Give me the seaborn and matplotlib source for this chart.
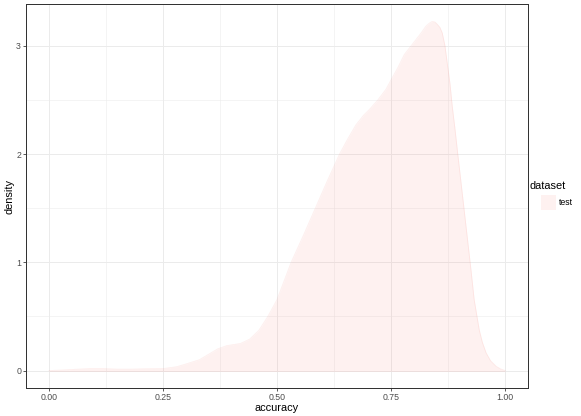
import numpy as np
import pandas as pd
import matplotlib
matplotlib.use("Agg")
import matplotlib.pyplot as plt
import seaborn as sns
from matplotlib.patches import Rectangle

# Density curve
accuracy = [0.00, 0.03, 0.06, 0.09, 0.12, 0.15, 0.18, 0.21, 0.25, 0.28, 0.30, 0.33,
            0.35, 0.37, 0.39, 0.42, 0.44, 0.46, 0.48, 0.50, 0.531, 0.558, 0.584,
            0.61, 0.637, 0.655, 0.673, 0.69, 0.702, 0.721, 0.739, 0.75, 0.765,
            0.779, 0.792, 0.805, 0.816, 0.826, 0.834, 0.840, 0.846, 0.851, 0.857,
            0.862, 0.868, 0.873, 0.879, 0.884, 0.890, 0.895, 0.905, 0.915, 0.925,
            0.932, 0.943, 0.950, 0.958, 0.968, 0.980, 0.990, 1.00]
density = [0.00, 0.005, 0.012, 0.018, 0.018, 0.013, 0.013, 0.016, 0.018, 0.035, 0.06, 0.10,
           0.15, 0.20, 0.23, 0.25, 0.29, 0.37, 0.50, 0.655, 1.00, 1.25, 1.50,
           1.75, 2.00, 2.14, 2.27, 2.36, 2.41, 2.50, 2.60, 2.686, 2.80,
           2.92, 2.99, 3.06, 3.12, 3.18, 3.21, 3.225, 3.22, 3.20, 3.17,
           3.12, 3.00, 2.84, 2.65, 2.44, 2.23, 2.04, 1.67, 1.30, 0.93,
           0.655, 0.378, 0.26, 0.165, 0.09, 0.04, 0.015, 0.00]
dataset = "test"

df = pd.DataFrame({"accuracy": accuracy, "density": density, "dataset": dataset})

sns.set_theme(style="white")
plt.rcParams['font.family'] = ['Liberation Sans', 'DejaVu Sans']

DPI = 72
fig = plt.figure(figsize=(581 / DPI, 416 / DPI), dpi=DPI)
W, H = 581, 416
ax = fig.add_axes([26 / W, 1 - 388 / H, (528 - 26) / W, (388 - 4) / H])

fill_col = "#F8766D"
ax.fill_between(df["accuracy"], 0, df["density"], color=fill_col, alpha=0.1,
                linewidth=0, zorder=3)
sns.lineplot(data=df, x="accuracy", y="density", color=fill_col, alpha=0.12,
             linewidth=0.8, ax=ax, zorder=4, legend=False)
ax.plot([df["accuracy"].iloc[0], df["accuracy"].iloc[-1]], [0, 0], color=fill_col,
        alpha=0.12, linewidth=0.8, zorder=4)

ax.set_xlim(-0.05, 1.05)
ax.set_ylim(-0.1613, 3.3863)

xticks = [0.00, 0.25, 0.50, 0.75, 1.00]
xticklabels = ["0.00", "0.25", "0.50", "0.75", "1.00"]
yticks = [0, 1, 2, 3]
ax.set_xticks(xticks)
ax.set_xticklabels(xticklabels)
ax.set_yticks(yticks)
ax.set_yticklabels([str(v) for v in yticks])
ax.set_xticks([0.125, 0.375, 0.625, 0.875], minor=True)
ax.set_yticks([0.5, 1.5, 2.5], minor=True)

ax.grid(True, which="major", color="#EBEBEB", linewidth=1.0, zorder=0)
ax.grid(True, which="minor", color="#EBEBEB", linewidth=0.5, zorder=0)
ax.set_axisbelow(True)

for s in ax.spines.values():
    s.set_color("#333333")
    s.set_linewidth(1.0)
    s.set_visible(True)

ax.tick_params(axis="both", which="major", length=2.75, width=0.8, color="#333333",
               labelsize=8.8, labelcolor="#4D4D4D", pad=2.2, direction="out",
               bottom=True, left=True)
ax.tick_params(axis="both", which="minor", length=0)

ax.set_xlabel("accuracy", fontsize=11, color="black", labelpad=1.5)
ax.set_ylabel("density", fontsize=11, color="black", labelpad=1.5)

# legend (ggplot-style)
fig.text(530 / W, 1 - 186 / H, "dataset", fontsize=11, color="black",
         ha="left", va="center")
fig.patches.append(Rectangle((541 / W, 1 - 210 / H), 15 / W, 15 / H,
                             transform=fig.transFigure, facecolor=fill_col,
                             alpha=0.1, edgecolor="none"))
fig.text(559 / W, 1 - 202.5 / H, dataset, fontsize=8.8, color="black",
         ha="left", va="center")

fig.savefig("out.png", dpi=DPI)
